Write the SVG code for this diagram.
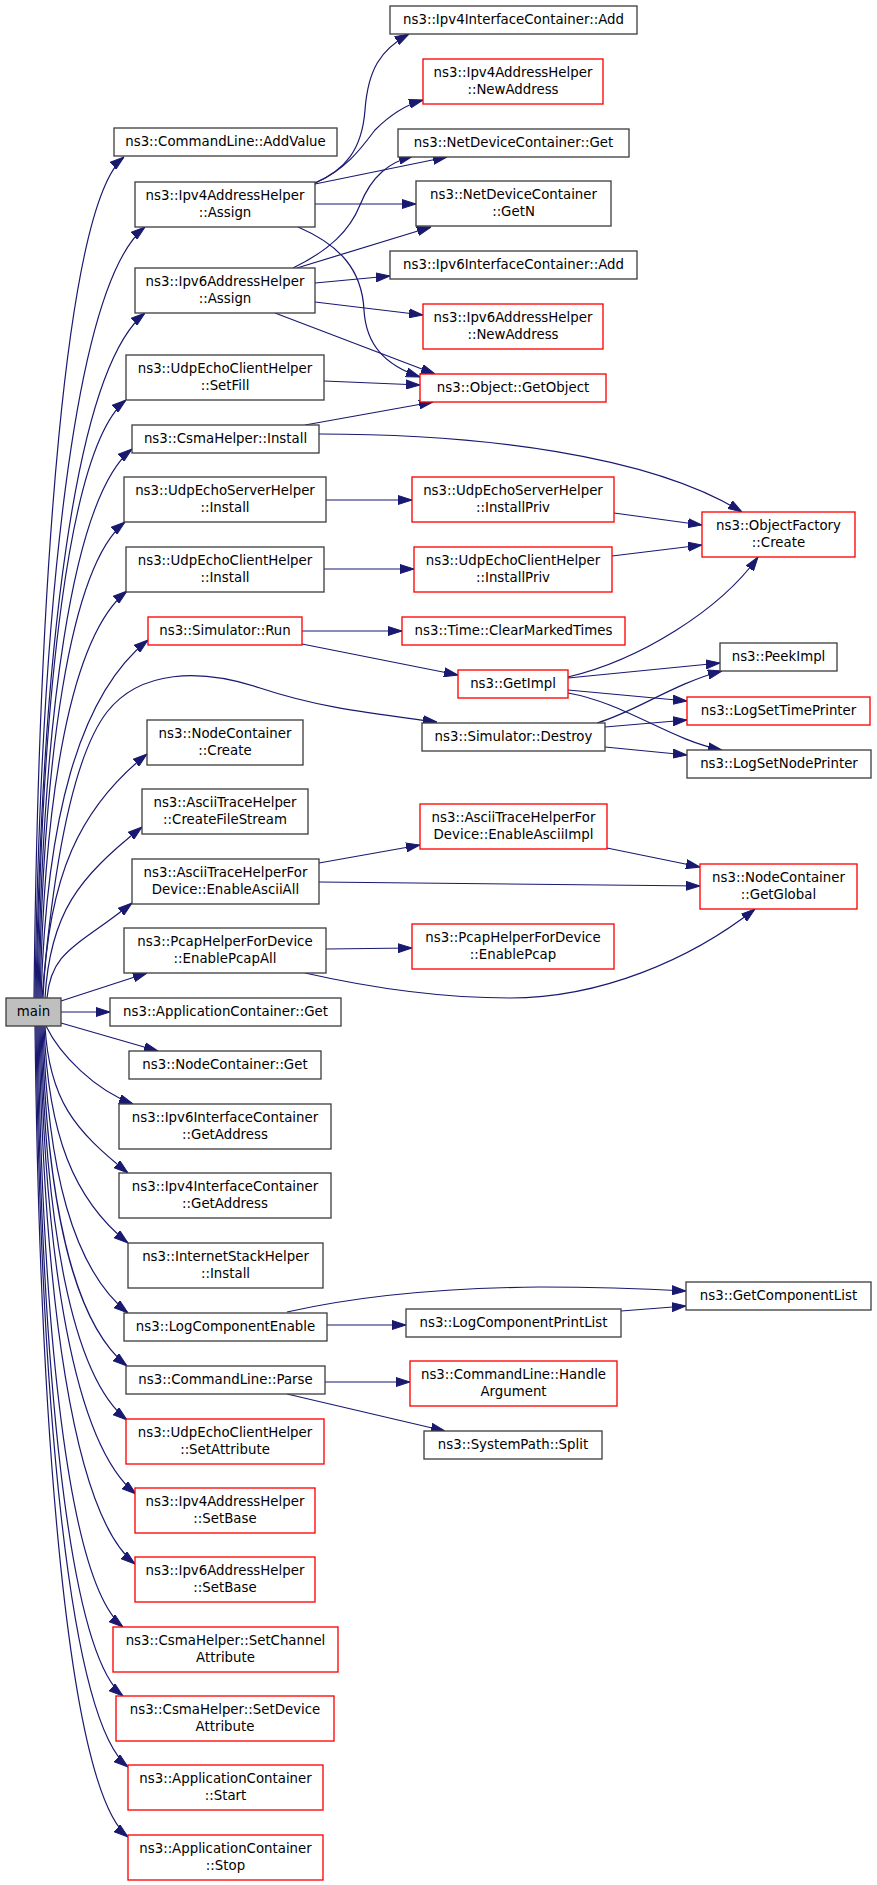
<svg xmlns="http://www.w3.org/2000/svg" width="877" height="1885" viewBox="0 0 877 1885">
<style>
.n rect{fill:#fff;stroke:#404040;stroke-width:1.33}
.n.r rect{stroke:#ff0000}
.n.m rect{fill:#bfbfbf}
.n text{font-family:"DejaVu Sans","Liberation Sans",sans-serif;font-size:13.33px;text-anchor:middle;fill:#000}
.e path{fill:none;stroke:#191970;stroke-width:1.2;marker-end:url(#a)}
</style>
<defs>
<marker id="a" markerWidth="14" markerHeight="10" refX="14" refY="5" orient="auto" markerUnits="userSpaceOnUse"><path d="M0,0.5 L14,5 L0,9.5 z" fill="#191970" stroke="#191970" stroke-width="1"/></marker>
</defs>
<rect width="877" height="1885" fill="#fff"/>
<g id="edges" class="e">
<path d="M34,998 C38.5,577.5 65.5,203.8 124,157"/>
<path d="M35,998 C40.5,612.5 73.5,284.2 145,227"/>
<path d="M36,998 C41.5,655.5 74.2,369.7 145,313"/>
<path d="M37,998 C41.5,699 68.2,446.3 126,400"/>
<path d="M38,998 C42.7,723.5 70.9,497.9 132,449"/>
<path d="M39,998 C43.3,760 69.1,566.7 125,522"/>
<path d="M40,998 C44.4,794.5 70.5,636.2 127,591"/>
<path d="M41,998 C46.4,819 78.5,695.6 148,640"/>
<path d="M42,998 C52,880 70,760 107,712 C140,670 200,668 260,688 C320,708 370,713 437,722"/>
<path d="M43,998 C48.2,876 79.4,808.1 147,754"/>
<path d="M45,998 C49.9,912.5 78.9,877.4 142,827"/>
<path d="M47,998 C51.3,950.5 76.8,947.2 132,903"/>
<path d="M61,1001 L147,973"/>
<path d="M61,1012 L110,1012"/>
<path d="M61,1023 L158,1051"/>
<path d="M46,1026 C60,1055 95,1090 133,1104"/>
<path d="M45,1026 C49.2,1099.5 74,1129.8 128,1173"/>
<path d="M44,1026 C48.2,1134.5 73.4,1199.3 128,1243"/>
<path d="M43,1026 C47.3,1169.5 72.8,1268.8 128,1313"/>
<path d="M42,1026 C46.3,1196 71.8,1321.8 127,1366"/>
<path d="M41,1026 C45.3,1223 71.1,1375.3 127,1420"/>
<path d="M40,1026 C44.8,1260 73.6,1444.1 136,1494"/>
<path d="M39,1026 C43.8,1295 72.6,1514.1 135,1564"/>
<path d="M38,1026 C42.3,1326.5 67.8,1582.8 123,1627"/>
<path d="M37,1026 C41.3,1361 67.1,1651.3 123,1696"/>
<path d="M36,1026 C40.6,1396.5 68.2,1719.2 128,1767"/>
<path d="M35,1026 C39.7,1431.5 67.6,1788.6 128,1837"/>
<path d="M315,183 C345,170 362,150 365,110 C368,70 380,50 409,34"/>
<path d="M315,183 C345,170 360,150 375,130 C390,115 405,105 423,100"/>
<path d="M315,184 L447,157"/>
<path d="M315,204 L416,204"/>
<path d="M298,227 C340,245 362,270 364,310 C366,345 385,365 420,377"/>
<path d="M293,268 C330,250 350,230 360,205 C372,175 390,162 413,156"/>
<path d="M297,268 L431,227"/>
<path d="M315,283 L390,276"/>
<path d="M315,302 L423,315"/>
<path d="M275,313 L435,374"/>
<path d="M324,381 L420,385"/>
<path d="M305,425 L433,402"/>
<path d="M319,434 C480,434 650,455 742,512"/>
<path d="M326,500 L412,500"/>
<path d="M324,569 L414,569"/>
<path d="M614,513 L702,525"/>
<path d="M612,556 L702,545"/>
<path d="M302,631 L402,631"/>
<path d="M302,644 L458,675"/>
<path d="M568,677 C640,660 720,610 758,557"/>
<path d="M568,678 L720,663"/>
<path d="M568,690 L687,701"/>
<path d="M568,693 C625,703 670,740 722,750"/>
<path d="M597,723 C635,712 675,683 722,671"/>
<path d="M605,727 L687,720"/>
<path d="M605,747 L687,755"/>
<path d="M319,863 L420,845"/>
<path d="M319,882 L700,886"/>
<path d="M607,848 L700,867"/>
<path d="M326,949 L412,948"/>
<path d="M305,973 C380,990 450,998 510,998 C600,998 690,960 755,909"/>
<path d="M287,1312 C340,1300 420,1288 540,1287 C600,1287 650,1289 686,1291"/>
<path d="M327,1325 L406,1325"/>
<path d="M621,1311 L686,1306"/>
<path d="M325,1382 L410,1382"/>
<path d="M287,1394 L445,1431"/>
</g>
<g id="n1" class="n"><rect x="114" y="128" width="223" height="28"/><text x="225.5" y="146">ns3::CommandLine::AddValue</text></g>
<g id="n2" class="n"><rect x="135" y="182" width="180" height="45"/><text x="225" y="199.5">ns3::Ipv4AddressHelper</text><text x="225" y="216.5">::Assign</text></g>
<g id="n3" class="n"><rect x="135" y="268" width="180" height="45"/><text x="225" y="285.5">ns3::Ipv6AddressHelper</text><text x="225" y="302.5">::Assign</text></g>
<g id="n4" class="n"><rect x="126" y="355" width="198" height="45"/><text x="225" y="372.5">ns3::UdpEchoClientHelper</text><text x="225" y="389.5">::SetFill</text></g>
<g id="n5" class="n"><rect x="132" y="425" width="187" height="28"/><text x="225.5" y="443">ns3::CsmaHelper::Install</text></g>
<g id="n6" class="n"><rect x="124" y="477" width="202" height="45"/><text x="225" y="494.5">ns3::UdpEchoServerHelper</text><text x="225" y="511.5">::Install</text></g>
<g id="n7" class="n"><rect x="126" y="547" width="198" height="45"/><text x="225" y="564.5">ns3::UdpEchoClientHelper</text><text x="225" y="581.5">::Install</text></g>
<g id="n8" class="n r"><rect x="148" y="617" width="154" height="28"/><text x="225" y="635">ns3::Simulator::Run</text></g>
<g id="n9" class="n"><rect x="147" y="720" width="156" height="45"/><text x="225" y="737.5">ns3::NodeContainer</text><text x="225" y="754.5">::Create</text></g>
<g id="n10" class="n"><rect x="142" y="789" width="166" height="45"/><text x="225" y="806.5">ns3::AsciiTraceHelper</text><text x="225" y="823.5">::CreateFileStream</text></g>
<g id="n11" class="n"><rect x="132" y="859" width="187" height="45"/><text x="225.5" y="876.5">ns3::AsciiTraceHelperFor</text><text x="225.5" y="893.5">Device::EnableAsciiAll</text></g>
<g id="n12" class="n"><rect x="124" y="928" width="202" height="45"/><text x="225" y="945.5">ns3::PcapHelperForDevice</text><text x="225" y="962.5">::EnablePcapAll</text></g>
<g id="main" class="n m"><rect x="6" y="998" width="55" height="28"/><text x="33.5" y="1016">main</text></g>
<g id="n14" class="n"><rect x="110" y="998" width="231" height="28"/><text x="225.5" y="1016">ns3::ApplicationContainer::Get</text></g>
<g id="n15" class="n"><rect x="129" y="1051" width="192" height="28"/><text x="225" y="1069">ns3::NodeContainer::Get</text></g>
<g id="n16" class="n"><rect x="119" y="1104" width="212" height="45"/><text x="225" y="1121.5">ns3::Ipv6InterfaceContainer</text><text x="225" y="1138.5">::GetAddress</text></g>
<g id="n17" class="n"><rect x="119" y="1173" width="212" height="45"/><text x="225" y="1190.5">ns3::Ipv4InterfaceContainer</text><text x="225" y="1207.5">::GetAddress</text></g>
<g id="n18" class="n"><rect x="128" y="1243" width="195" height="45"/><text x="225.5" y="1260.5">ns3::InternetStackHelper</text><text x="225.5" y="1277.5">::Install</text></g>
<g id="n19" class="n"><rect x="124" y="1313" width="203" height="28"/><text x="225.5" y="1331">ns3::LogComponentEnable</text></g>
<g id="n20" class="n"><rect x="126" y="1366" width="199" height="28"/><text x="225.5" y="1384">ns3::CommandLine::Parse</text></g>
<g id="n21" class="n r"><rect x="126" y="1419" width="198" height="45"/><text x="225" y="1436.5">ns3::UdpEchoClientHelper</text><text x="225" y="1453.5">::SetAttribute</text></g>
<g id="n22" class="n r"><rect x="135" y="1488" width="180" height="45"/><text x="225" y="1505.5">ns3::Ipv4AddressHelper</text><text x="225" y="1522.5">::SetBase</text></g>
<g id="n23" class="n r"><rect x="135" y="1557" width="180" height="45"/><text x="225" y="1574.5">ns3::Ipv6AddressHelper</text><text x="225" y="1591.5">::SetBase</text></g>
<g id="n24" class="n r"><rect x="113" y="1627" width="225" height="45"/><text x="225.5" y="1644.5">ns3::CsmaHelper::SetChannel</text><text x="225.5" y="1661.5">Attribute</text></g>
<g id="n25" class="n r"><rect x="116" y="1696" width="218" height="45"/><text x="225" y="1713.5">ns3::CsmaHelper::SetDevice</text><text x="225" y="1730.5">Attribute</text></g>
<g id="n26" class="n r"><rect x="128" y="1765" width="195" height="45"/><text x="225.5" y="1782.5">ns3::ApplicationContainer</text><text x="225.5" y="1799.5">::Start</text></g>
<g id="n27" class="n r"><rect x="128" y="1835" width="195" height="45"/><text x="225.5" y="1852.5">ns3::ApplicationContainer</text><text x="225.5" y="1869.5">::Stop</text></g>
<g id="n28" class="n"><rect x="390" y="6" width="247" height="28"/><text x="513.5" y="24">ns3::Ipv4InterfaceContainer::Add</text></g>
<g id="n29" class="n r"><rect x="423" y="59" width="180" height="45"/><text x="513" y="76.5">ns3::Ipv4AddressHelper</text><text x="513" y="93.5">::NewAddress</text></g>
<g id="n30" class="n"><rect x="398" y="129" width="231" height="28"/><text x="513.5" y="147">ns3::NetDeviceContainer::Get</text></g>
<g id="n31" class="n"><rect x="416" y="181" width="195" height="45"/><text x="513.5" y="198.5">ns3::NetDeviceContainer</text><text x="513.5" y="215.5">::GetN</text></g>
<g id="n32" class="n"><rect x="390" y="251" width="247" height="28"/><text x="513.5" y="269">ns3::Ipv6InterfaceContainer::Add</text></g>
<g id="n33" class="n r"><rect x="423" y="304" width="180" height="45"/><text x="513" y="321.5">ns3::Ipv6AddressHelper</text><text x="513" y="338.5">::NewAddress</text></g>
<g id="n34" class="n r"><rect x="420" y="374" width="186" height="28"/><text x="513" y="392">ns3::Object::GetObject</text></g>
<g id="n35" class="n r"><rect x="412" y="477" width="202" height="45"/><text x="513" y="494.5">ns3::UdpEchoServerHelper</text><text x="513" y="511.5">::InstallPriv</text></g>
<g id="n36" class="n r"><rect x="414" y="547" width="198" height="45"/><text x="513" y="564.5">ns3::UdpEchoClientHelper</text><text x="513" y="581.5">::InstallPriv</text></g>
<g id="n37" class="n r"><rect x="402" y="617" width="223" height="28"/><text x="513.5" y="635">ns3::Time::ClearMarkedTimes</text></g>
<g id="n38" class="n r"><rect x="458" y="670" width="110" height="28"/><text x="513" y="688">ns3::GetImpl</text></g>
<g id="n39" class="n"><rect x="422" y="723" width="183" height="28"/><text x="513.5" y="741">ns3::Simulator::Destroy</text></g>
<g id="n40" class="n r"><rect x="420" y="804" width="187" height="45"/><text x="513.5" y="821.5">ns3::AsciiTraceHelperFor</text><text x="513.5" y="838.5">Device::EnableAsciiImpl</text></g>
<g id="n41" class="n r"><rect x="412" y="924" width="202" height="45"/><text x="513" y="941.5">ns3::PcapHelperForDevice</text><text x="513" y="958.5">::EnablePcap</text></g>
<g id="n42" class="n"><rect x="406" y="1309" width="215" height="28"/><text x="513.5" y="1327">ns3::LogComponentPrintList</text></g>
<g id="n43" class="n r"><rect x="410" y="1361" width="207" height="45"/><text x="513.5" y="1378.5">ns3::CommandLine::Handle</text><text x="513.5" y="1395.5">Argument</text></g>
<g id="n44" class="n"><rect x="424" y="1431" width="178" height="28"/><text x="513" y="1449">ns3::SystemPath::Split</text></g>
<g id="n45" class="n r"><rect x="702" y="512" width="153" height="45"/><text x="778.5" y="529.5">ns3::ObjectFactory</text><text x="778.5" y="546.5">::Create</text></g>
<g id="n46" class="n"><rect x="720" y="643" width="117" height="28"/><text x="778.5" y="661">ns3::PeekImpl</text></g>
<g id="n47" class="n r"><rect x="687" y="697" width="183" height="28"/><text x="778.5" y="715">ns3::LogSetTimePrinter</text></g>
<g id="n48" class="n"><rect x="687" y="750" width="184" height="28"/><text x="779" y="768">ns3::LogSetNodePrinter</text></g>
<g id="n49" class="n r"><rect x="700" y="864" width="157" height="45"/><text x="778.5" y="881.5">ns3::NodeContainer</text><text x="778.5" y="898.5">::GetGlobal</text></g>
<g id="n50" class="n"><rect x="686" y="1282" width="185" height="28"/><text x="778.5" y="1300">ns3::GetComponentList</text></g>
</svg>
